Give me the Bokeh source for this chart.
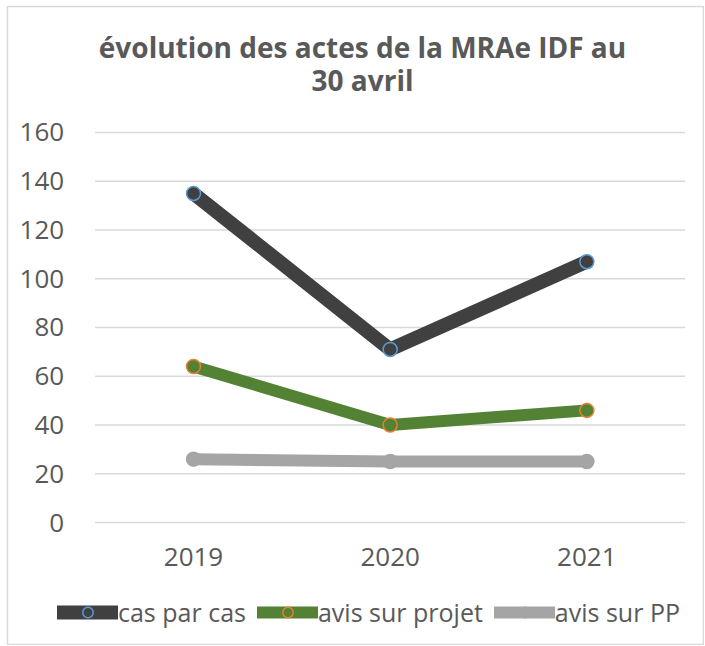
from bokeh.plotting import figure
from bokeh.models import Range1d, FixedTicker, Legend, LegendItem, ColumnDataSource, Label
from bokeh.embed import file_html
from bokeh.resources import INLINE

years = ["2019", "2020", "2021"]
cas_par_cas = [135, 71, 107]
avis_projet = [64, 40, 46]
avis_pp = [26, 25, 25]
y_ticks = [0, 20, 40, 60, 80, 100, 120, 140, 160]
title_lines = ["évolution des actes de la MRAe IDF au", "30 avril"]

FONT = "Open Sans"
TXT = "#595959"
GRID = "#d9d9d9"

x_pos = list(range(len(years)))  # category slots

p = figure(frame_width=697, frame_height=639,
           x_range=Range1d(-0.94575, 2.59826), y_range=Range1d(-50.46, 211.69),
           output_backend="svg", toolbar_location=None,
           min_border_left=7, min_border_top=6, min_border_right=0, min_border_bottom=0)

p.outline_line_color = GRID
p.outline_line_width = 1.5
p.xgrid.visible = False
p.ygrid.visible = False

# horizontal gridlines across the category band only
gsrc = ColumnDataSource(dict(y=y_ticks, x0=[x_pos[0] - 0.5] * len(y_ticks),
                             x1=[x_pos[-1] + 0.5] * len(y_ticks)))
p.segment(x0="x0", x1="x1", y0="y", y1="y", source=gsrc, line_color=GRID, line_width=1.5)

p.xaxis.ticker = FixedTicker(ticks=x_pos)
p.xaxis.major_label_overrides = {i: y for i, y in zip(x_pos, years)}
p.xaxis.fixed_location = 0
p.yaxis.ticker = FixedTicker(ticks=y_ticks)
p.yaxis.fixed_location = x_pos[0] - 0.5

for ax in (p.xaxis, p.yaxis):
    ax.axis_line_color = None
    ax.major_tick_line_color = None
    ax.minor_tick_line_color = None
    ax.major_label_text_font = FONT
    ax.major_label_text_font_size = "26px"
    ax.major_label_text_color = TXT
p.yaxis.major_label_standoff = 25
p.xaxis.major_label_standoff = 19

series = [
    ("cas par cas", cas_par_cas, "#404040", "#5b9bd5", 14),
    ("avis sur projet", avis_projet, "#548235", "#ed7d31", 12),
    ("avis sur PP", avis_pp, "#a5a5a5", "#a5a5a5", 12),
]
items = []
for name, vals, col, edge, w in series:
    src = ColumnDataSource(dict(x=x_pos, y=vals))
    r1 = p.line("x", "y", source=src, line_color=col, line_width=w,
                line_cap="round", line_join="round")
    r2 = p.scatter("x", "y", source=src, marker="circle", size=14,
                   fill_color=col, line_color=edge, line_width=1.5)
    items.append(LegendItem(label=name, renderers=[r1, r2]))

legend = Legend(items=items, orientation="horizontal", location=(50, 16),
                label_text_font=FONT, label_text_font_size="25px", label_text_color=TXT,
                glyph_width=61, glyph_height=26, label_height=26, label_standoff=0, spacing=11,
                border_line_color=None, background_fill_alpha=0, margin=0, padding=0)
p.add_layout(legend, "center")

for txt, ypx in zip(title_lines, [599, 566]):
    p.add_layout(Label(x=355, y=ypx, x_units="screen", y_units="screen", text=txt,
                       text_align="center", text_baseline="alphabetic",
                       text_font=FONT, text_font_size="28px", text_font_style="bold",
                       text_color=TXT))

open("out.html", "w").write(file_html(p, INLINE))
